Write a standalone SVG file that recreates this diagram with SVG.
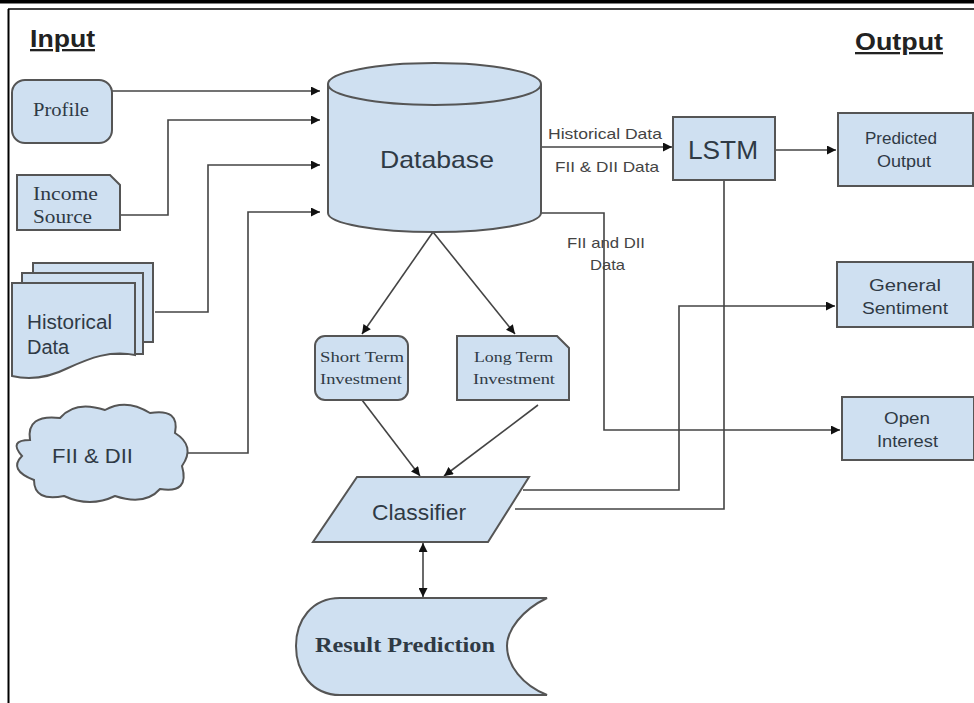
<svg xmlns="http://www.w3.org/2000/svg" width="974" height="703" viewBox="0 0 974 703">
<defs>
<marker id="arr" viewBox="0 0 10 10" refX="10" refY="5" markerWidth="10" markerHeight="9" markerUnits="userSpaceOnUse" orient="auto-start-reverse">
<path d="M0,0 L10,5 L0,10 Z" fill="#111"/>
</marker>
<style>
.sh{fill:#cfe0f1;stroke:#555;stroke-width:2}
.cn{fill:none;stroke:#444;stroke-width:1.6}
.sans{font-family:"Liberation Sans",Arial,sans-serif;fill:#2f3a45}
.serif{font-family:"Liberation Serif","Times New Roman",serif;fill:#2f3a45}
.ttl{font-family:"Liberation Sans",Arial,sans-serif;font-weight:bold;font-size:23px;fill:#222;text-decoration:underline}
.lbl{font-family:"Liberation Sans",Arial,sans-serif;font-size:14.5px;fill:#444}
</style>
</defs>
<rect x="0" y="0" width="974" height="703" fill="#fff"/>
<g id="frame">
<rect x="0" y="0" width="974" height="3.5" fill="#000"/>
<line x1="8" y1="9" x2="974" y2="9" stroke="#000" stroke-width="1.5"/>
<line x1="8.5" y1="9" x2="8.5" y2="703" stroke="#000" stroke-width="2"/>
</g>
<g id="titles">
<text class="ttl" x="30" y="47" textLength="65" lengthAdjust="spacingAndGlyphs">Input</text>
<text class="ttl" x="855" y="50" textLength="88" lengthAdjust="spacingAndGlyphs">Output</text>
</g>
<g id="connectors">
<path class="cn" d="M112,91 H320" marker-end="url(#arr)"/>
<path class="cn" d="M120,215 H168 V120 H320" marker-end="url(#arr)"/>
<path class="cn" d="M155,312 H208 V165 H320" marker-end="url(#arr)"/>
<path class="cn" d="M188,453 H248 V212 H320" marker-end="url(#arr)"/>
<path class="cn" d="M541,147 H672" marker-end="url(#arr)"/>
<path class="cn" d="M775,150 H836" marker-end="url(#arr)"/>
<path class="cn" d="M433,232 L362,334" marker-end="url(#arr)"/>
<path class="cn" d="M433,232 L515,334" marker-end="url(#arr)"/>
<path class="cn" d="M362,400 L420,476" marker-end="url(#arr)"/>
<path class="cn" d="M538,405 L444,476" marker-end="url(#arr)"/>
<path class="cn" d="M541,213 H604 V430 H840" marker-end="url(#arr)"/>
<path class="cn" d="M523,490 H679 V306 H835" marker-end="url(#arr)"/>
<path class="cn" d="M515,509 H724 V180"/>
<path class="cn" d="M423,543 V597" marker-start="url(#arr)" marker-end="url(#arr)"/>
<text class="lbl" x="548" y="139" textLength="114" lengthAdjust="spacingAndGlyphs">Historical Data</text>
<text class="lbl" x="555" y="172" textLength="104" lengthAdjust="spacingAndGlyphs">FII &amp; DII Data</text>
<text class="lbl" x="567" y="248" textLength="78" lengthAdjust="spacingAndGlyphs">FII and DII</text>
<text class="lbl" x="590" y="270" textLength="35" lengthAdjust="spacingAndGlyphs">Data</text>
</g>
<g id="profile">
<rect class="sh" x="12" y="80" width="100" height="63" rx="13"/>
<text class="serif" x="33" y="116" font-size="19" textLength="56" lengthAdjust="spacingAndGlyphs">Profile</text>
</g>
<g id="income">
<path class="sh" d="M17,175 H110 L120,185 V230 H17 Z"/>
<text class="serif" x="33" y="200" font-size="19" textLength="65" lengthAdjust="spacingAndGlyphs">Income</text>
<text class="serif" x="33" y="223" font-size="19" textLength="59" lengthAdjust="spacingAndGlyphs">Source</text>
</g>
<g id="historical">
<rect class="sh" x="33" y="263" width="120" height="79"/>
<rect class="sh" x="22" y="273" width="121" height="81"/>
<path class="sh" d="M12,283 H135 V355 C110,350 90,358 68,368 C48,378 28,380 12,376 Z"/>
<text class="sans" x="27" y="329" font-size="20" textLength="85" lengthAdjust="spacingAndGlyphs">Historical</text>
<text class="sans" x="27" y="354" font-size="20">Data</text>
</g>
<g id="fii">
<path class="sh" d="M30,440 Q26,414 60,418 Q75,400 105,410 Q126,398 150,413 Q180,408 175,433 Q196,446 182,466 Q190,494 160,489 Q145,506 115,496 Q90,508 64,496 Q34,502 34,480 Q8,470 22,456 Q8,440 30,440 Z"/>
<text class="sans" x="52" y="463" font-size="21" textLength="81" lengthAdjust="spacingAndGlyphs">FII &amp; DII</text>
</g>
<g id="database">
<path class="sh" d="M328,84 V213 A106.5,19 0 0 0 541,213 V84"/>
<ellipse class="sh" cx="434.5" cy="84" rx="106.5" ry="21" fill="#dde9f5"/>
<text class="sans" x="380" y="168" font-size="24" textLength="114" lengthAdjust="spacingAndGlyphs">Database</text>
</g>
<g id="lstm">
<rect class="sh" x="673" y="117" width="102" height="63"/>
<text class="sans" x="688" y="159" font-size="25" textLength="70" lengthAdjust="spacingAndGlyphs">LSTM</text>
</g>
<g id="predicted">
<rect class="sh" x="838" y="113" width="135" height="73"/>
<text class="sans" x="865" y="144" font-size="16" textLength="72" lengthAdjust="spacingAndGlyphs">Predicted</text>
<text class="sans" x="877" y="167" font-size="16" textLength="54" lengthAdjust="spacingAndGlyphs">Output</text>
</g>
<g id="sentiment">
<rect class="sh" x="837" y="262" width="136" height="65"/>
<text class="sans" x="869" y="291" font-size="16" textLength="72" lengthAdjust="spacingAndGlyphs">General</text>
<text class="sans" x="862" y="314" font-size="16" textLength="86" lengthAdjust="spacingAndGlyphs">Sentiment</text>
</g>
<g id="openinterest">
<rect class="sh" x="842" y="397" width="132" height="63"/>
<text class="sans" x="884" y="424" font-size="16" textLength="46" lengthAdjust="spacingAndGlyphs">Open</text>
<text class="sans" x="877" y="447" font-size="16" textLength="61" lengthAdjust="spacingAndGlyphs">Interest</text>
</g>
<g id="shortterm">
<rect class="sh" x="315" y="336" width="93" height="64" rx="10"/>
<text class="serif" x="320" y="362" font-size="15" textLength="84" lengthAdjust="spacingAndGlyphs">Short Term</text>
<text class="serif" x="320" y="384" font-size="15" textLength="82" lengthAdjust="spacingAndGlyphs">Investment</text>
</g>
<g id="longterm">
<path class="sh" d="M457,336 H557 L569,348 V400 H457 Z"/>
<text class="serif" x="474" y="362" font-size="15" textLength="79" lengthAdjust="spacingAndGlyphs">Long Term</text>
<text class="serif" x="473" y="384" font-size="15" textLength="82" lengthAdjust="spacingAndGlyphs">Investment</text>
</g>
<g id="classifier">
<path class="sh" d="M357,477 H529 L488,542 H313 Z"/>
<text class="sans" x="372" y="520" font-size="22" textLength="94" lengthAdjust="spacingAndGlyphs">Classifier</text>
</g>
<g id="result">
<path class="sh" d="M340,598 H547 C522,610 507,630 507,646 C507,665 522,685 547,695 H340 C312,695 296,672 296,646 C296,620 312,598 340,598 Z"/>
<text class="serif" x="315" y="652" font-size="21" font-weight="bold" textLength="180" lengthAdjust="spacingAndGlyphs" fill="#222">Result Prediction</text>
</g>
</svg>
